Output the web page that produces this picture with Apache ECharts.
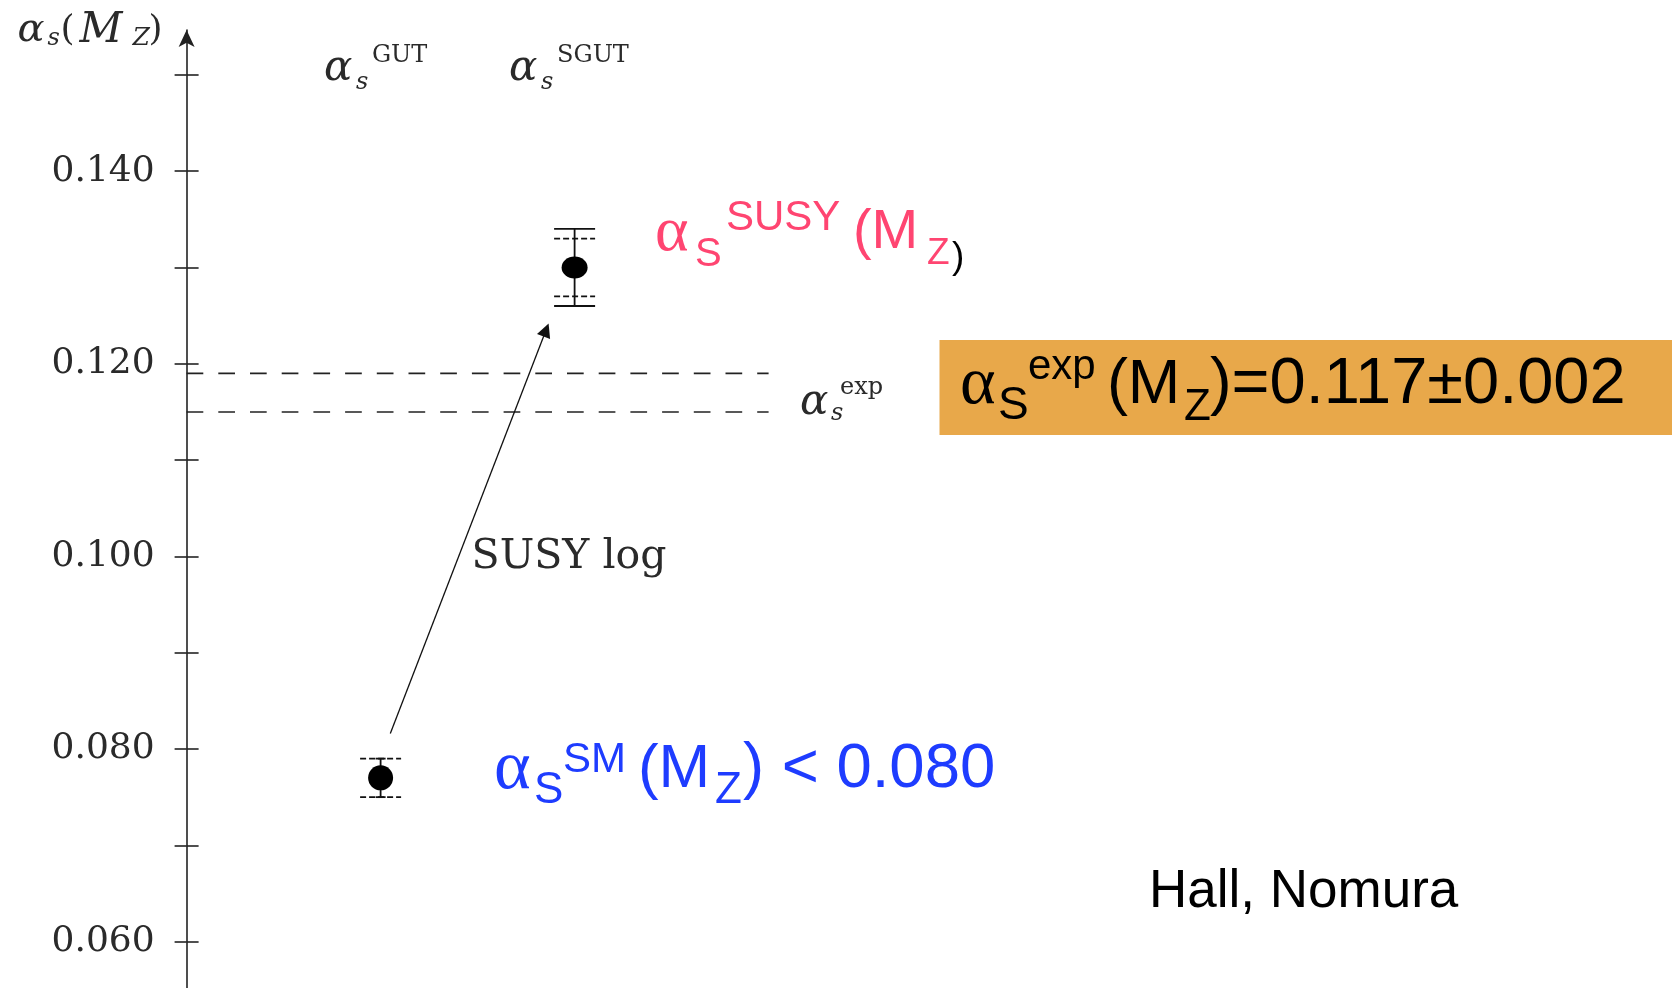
<!DOCTYPE html>
<html><head><meta charset="utf-8">
<script src="https://cdn.jsdelivr.net/npm/echarts@6/dist/echarts.min.js"></script>
<style>html,body{margin:0;padding:0;background:#fff}#c{width:1672px;height:988px}</style>
</head><body><div id="c"></div>
<script>
// ---------------- data ----------------
const yTickValues  = [0.06, 0.07, 0.08, 0.09, 0.10, 0.11, 0.12, 0.13, 0.14, 0.15];
const yLabelValues = [0.06, 0.08, 0.10, 0.12, 0.14];
const pointNames   = ['SM', 'SUSY'];
const pointX       = [1, 2];            // columns: α_s^GUT, α_s^SGUT
const pointCentral = [0.077, 0.130];
const solidLow     = [0.075, 0.126];
const solidHigh    = [0.079, 0.134];
const dashLow      = [0.075, 0.127];
const dashHigh     = [0.079, 0.133];
const expLow       = 0.115;
const expHigh      = 0.119;
const expXEnd      = 3.0;
const arrowFrom    = [1.05, 0.0816];
const arrowTo      = [1.853, 0.1235];

// ---------------- styles ----------------
const PINK = '#FF4571', BLUE = '#1E3CFF', ORANGE = '#E8A84A', INK = '#111', TEXC = '#2a2a2a';
const SANS = '"Liberation Sans", Arial, sans-serif';
const GREEK = '"Liberation Serif", serif';
const TEX = '"DejaVu Serif", serif';
const solidCapHalf = [5, 20.5];
const dashCapHalf = 20.5;
const dotSizes = [[25, 25], [26, 22]];

const X_MAX = (1672 - 186.6) / 194;
const Y_MIN = 0.05518, Y_MAX = 0.15466;

function tok(o) { return Object.assign({align: 'left', verticalAlign: 'middle'}, o); }

const notes = [
  { value: [2.414, 0.13360], formatter: '{a|α}{s|S}{p|SUSY}{m|(M}{z|Z}{k|)}',
    rich: {
      a: tok({fontFamily: GREEK, fontSize: 64, color: PINK, width: 40}),
      s: tok({fontFamily: SANS, fontSize: 40, color: PINK, width: 31, padding: [44, 0, 0, 0]}),
      p: tok({fontFamily: SANS, fontSize: 42, color: PINK, width: 127, padding: [0, 0, 28, 0]}),
      m: tok({fontFamily: SANS, fontSize: 56, color: PINK, width: 74}),
      z: tok({fontFamily: SANS, fontSize: 37, color: PINK, width: 25, padding: [42, 0, 0, 0]}),
      k: tok({fontFamily: SANS, fontSize: 37, color: '#000', padding: [50, 0, 0, 0]})
    }},
  { value: [1.584, 0.07782], formatter: '{a|α}{s|S}{p|SM}{m|(M}{z|Z}{r|) < 0.080}',
    rich: {
      a: tok({fontFamily: GREEK, fontSize: 70, color: BLUE, width: 40}),
      s: tok({fontFamily: SANS, fontSize: 44, color: BLUE, width: 29, padding: [42, 0, 0, 0]}),
      p: tok({fontFamily: SANS, fontSize: 42, color: BLUE, width: 75, padding: [0, 0, 20, 0]}),
      m: tok({fontFamily: SANS, fontSize: 62, color: BLUE, width: 77}),
      z: tok({fontFamily: SANS, fontSize: 44, color: BLUE, width: 28, padding: [42, 0, 0, 0]}),
      r: tok({fontFamily: SANS, fontSize: 63.5, color: BLUE})
    }},
  { value: [3.986, 0.11775], formatter: '{a|α}{s|S}{p|exp}{m|(M}{z|Z}{r|)=0.117±0.002}',
    rich: {
      a: tok({fontFamily: GREEK, fontSize: 68, color: '#000', width: 38}),
      s: tok({fontFamily: SANS, fontSize: 46, color: '#000', width: 30, padding: [42, 0, 0, 0]}),
      p: tok({fontFamily: SANS, fontSize: 42, color: '#000', width: 79, padding: [0, 0, 36, 0]}),
      m: tok({fontFamily: SANS, fontSize: 63, color: '#000', width: 77}),
      z: tok({fontFamily: SANS, fontSize: 44, color: '#000', width: 26, padding: [45, 0, 0, 0]}),
      r: tok({fontFamily: SANS, fontSize: 65, color: '#000'})
    }},
  { value: [4.961, 0.06515], formatter: '{h|Hall, Nomura}',
    rich: { h: tok({fontFamily: SANS, fontSize: 53, color: '#000'}) }},
  { value: [1.469, 0.0999], formatter: '{t|SUSY log}',
    rich: { t: tok({fontFamily: TEX, fontSize: 41, color: TEXC}) }},
  { value: [0.708, 0.15056], formatter: '{a|α}{s|s}{p|GUT}',
    rich: {
      a: tok({fontFamily: TEX, fontStyle: 'italic', fontSize: 42, color: TEXC, width: 32}),
      s: tok({fontFamily: TEX, fontStyle: 'italic', fontSize: 24, color: TEXC, width: 16, padding: [27, 0, 0, 0]}),
      p: tok({fontFamily: TEX, fontSize: 24, color: TEXC, padding: [0, 0, 28, 0]})
    }},
  { value: [1.662, 0.15056], formatter: '{a|α}{s|s}{p|SGUT}',
    rich: {
      a: tok({fontFamily: TEX, fontStyle: 'italic', fontSize: 42, color: TEXC, width: 32}),
      s: tok({fontFamily: TEX, fontStyle: 'italic', fontSize: 24, color: TEXC, width: 16, padding: [27, 0, 0, 0]}),
      p: tok({fontFamily: TEX, fontSize: 24, color: TEXC, padding: [0, 0, 28, 0]})
    }},
  { value: [3.162, 0.11590], formatter: '{a|α}{s|s}{p|exp}',
    rich: {
      a: tok({fontFamily: TEX, fontStyle: 'italic', fontSize: 42, color: TEXC, width: 31}),
      s: tok({fontFamily: TEX, fontStyle: 'italic', fontSize: 24, color: TEXC, width: 9, padding: [22, 0, 0, 0]}),
      p: tok({fontFamily: TEX, fontSize: 24, color: TEXC, padding: [0, 0, 30, 0]})
    }}
];

const chart = echarts.init(document.getElementById('c'), null, {renderer: 'canvas'});

const axisCommon = {
  type: 'value', min: Y_MIN, max: Y_MAX, position: 'left', splitLine: {show: false}
};

chart.setOption({
  animation: false,
  backgroundColor: '#fff',
  grid: {left: 186.6, right: 0, top: 30, bottom: 0, containLabel: false, outerBoundsMode: 'none'},
  xAxis: {type: 'value', min: 0, max: X_MAX, show: false},
  yAxis: [
    Object.assign({}, axisCommon, {
      name: '{a|α}{s|s}{p|(}{m|M}{z|Z}{c|)}',
      nameLocation: 'end', nameGap: -1,
      nameTextStyle: {
        align: 'right', verticalAlign: 'middle', padding: [0, 20, 0, 0],
        rich: {
          a: tok({fontFamily: TEX, fontStyle: 'italic', fontSize: 40, color: TEXC, width: 30}),
          s: tok({fontFamily: TEX, fontStyle: 'italic', fontSize: 24, color: TEXC, width: 13, padding: [15, 0, 0, 0]}),
          p: tok({fontFamily: TEX, fontSize: 36, color: TEXC, width: 19}),
          m: tok({fontFamily: TEX, fontStyle: 'italic', fontSize: 42, color: TEXC, width: 53}),
          z: tok({fontFamily: TEX, fontStyle: 'italic', fontSize: 25, color: TEXC, width: 16, padding: [15, 0, 0, 0]}),
          c: tok({fontFamily: TEX, fontSize: 36, color: TEXC, width: 18})
        }
      },
      axisLine: {show: true, onZero: false, lineStyle: {color: '#222', width: 1.6},
                 symbol: ['none', 'arrow'], symbolSize: [12, 17]},
      axisTick: {show: true, inside: false, length: 12, customValues: yTickValues,
                 lineStyle: {color: '#222', width: 1.6}},
      axisLabel: {show: true, customValues: yLabelValues, margin: 32,
                  formatter: v => v.toFixed(3),
                  fontFamily: TEX, fontSize: 36, color: TEXC}
    }),
    Object.assign({}, axisCommon, {
      axisLine: {show: false},
      axisTick: {show: true, inside: true, length: 12, customValues: yTickValues,
                 lineStyle: {color: '#222', width: 1.6}},
      axisLabel: {show: false}
    })
  ],
  graphic: [{
    type: 'rect', silent: true, z: 0,
    shape: {x: 939.5, y: 340, width: 733, height: 95},
    style: {fill: ORANGE}
  }],
  series: [
    {
      name: 'exp upper', type: 'line', symbol: 'none', silent: true,
      data: [[0, expHigh], [expXEnd, expHigh]],
      lineStyle: {color: '#222', width: 1.6, type: [16.7, 15]}
    },
    {
      name: 'exp lower', type: 'line', symbol: 'none', silent: true,
      data: [[0, expLow], [expXEnd, expLow]],
      lineStyle: {color: '#222', width: 1.6, type: [16.7, 15]}
    },
    {
      name: 'error bars', type: 'custom', silent: true,
      data: pointX.map((x, i) => [x, pointCentral[i], solidLow[i], solidHigh[i], dashLow[i], dashHigh[i]]),
      renderItem: function (params, api) {
        const i = params.dataIndex;
        const x = api.value(0);
        const pSL = api.coord([x, api.value(2)]);
        const pSH = api.coord([x, api.value(3)]);
        const pDL = api.coord([x, api.value(4)]);
        const pDH = api.coord([x, api.value(5)]);
        const cx = pSL[0];
        const hs = solidCapHalf[i], hd = dashCapHalf;
        const solid = {stroke: INK, lineWidth: 1.8, fill: null};
        const dashed = {stroke: INK, lineWidth: 1.6, lineDash: [6, 3], fill: null};
        return {type: 'group', children: [
          {type: 'line', shape: {x1: cx - hd, y1: pDH[1], x2: cx + hd, y2: pDH[1]}, style: dashed},
          {type: 'line', shape: {x1: cx - hd, y1: pDL[1], x2: cx + hd, y2: pDL[1]}, style: dashed},
          {type: 'line', shape: {x1: cx, y1: pSH[1], x2: cx, y2: pSL[1]}, style: solid},
          {type: 'line', shape: {x1: cx - hs, y1: pSH[1], x2: cx + hs, y2: pSH[1]}, style: solid},
          {type: 'line', shape: {x1: cx - hs, y1: pSL[1], x2: cx + hs, y2: pSL[1]}, style: solid}
        ]};
      },
      z: 3
    },
    {
      name: 'central values', type: 'scatter', silent: true,
      data: pointX.map((x, i) => ({name: pointNames[i], value: [x, pointCentral[i]]})),
      symbol: 'circle',
      symbolSize: (v, p) => dotSizes[p.dataIndex],
      itemStyle: {color: '#000', opacity: 1},
      z: 4,
      markLine: {
        silent: true, animation: false,
        symbol: ['none', 'triangle'], symbolSize: 14,
        lineStyle: {color: INK, width: 1.3, type: 'solid', opacity: 1},
        itemStyle: {color: INK},
        label: {show: false},
        emphasis: {disabled: true},
        data: [[{coord: arrowFrom}, {coord: arrowTo}]]
      }
    },
    {
      name: 'notes', type: 'scatter', silent: true, symbolSize: 0, z: 5,
      itemStyle: {color: 'rgba(0,0,0,0)', opacity: 1},
      data: notes.map(n => ({
        value: n.value,
        label: {show: true, position: 'right', distance: 0, formatter: n.formatter, rich: n.rich}
      }))
    }
  ]
});
</script>
</body></html>
